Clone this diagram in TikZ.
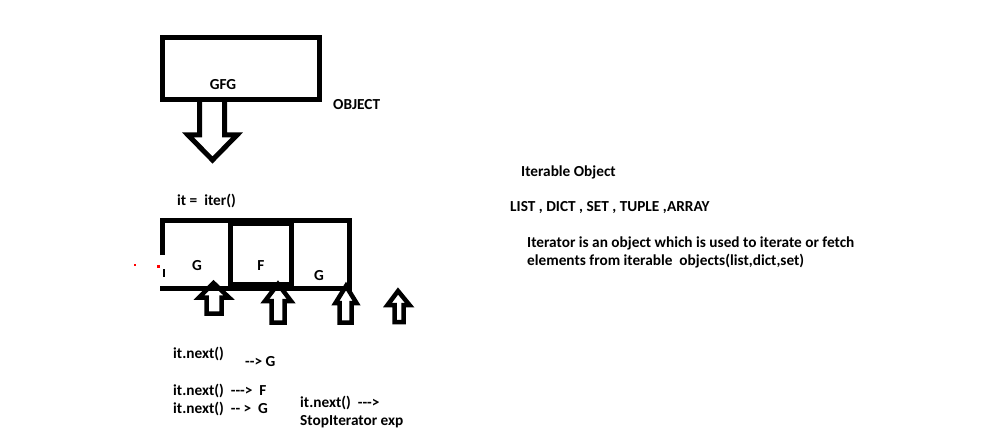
\documentclass[tikz,border=0pt]{standalone}
\usepackage{fontspec}
\setmainfont{Carlito}[Ligatures=TeXOff]
\begin{document}
\begin{tikzpicture}[x=1pt,y=-1pt,
  lbl/.style={inner sep=0pt,anchor=base west,font=\fontsize{15.3}{18}\selectfont\bfseries},
  lblc/.style={inner sep=0pt,anchor=base,font=\fontsize{15.3}{18}\selectfont\bfseries},
  heavy/.style={line width=5pt,line join=miter},
  blockarrow/.style={line width=4.5pt,line join=miter,miter limit=10}]
\useasboundingbox[fill=white] (0,0) rectangle (1004,433);
% top object box
\draw[heavy] (162.5,37.5) rectangle (319,100);
\node[lblc] (gfg) at (223,90) {GFG};
\node[lbl] (obj) at (333,110) {OBJECT};
% down arrow
\draw[heavy] (199.5,102) -- (199.5,135) -- (188,135) -- (212.5,160) -- (237,135) -- (224.5,135) -- (224.5,102);
\node[lbl] (iter) at (177,205) {it =\ \ iter()};
% array frame
\draw[heavy,line cap=butt] (162.5,255) -- (162.5,220.5) -- (349,220.5) -- (349,288.5) -- (160,288.5);
\draw[heavy] (230.5,223.5) rectangle (291.5,284.5);
\draw[line width=1.5pt] (164,269) -- (164,277);
\fill[red] (156.5,265) rectangle (159.5,268);
\fill[red] (134,264) rectangle (136,265.5);
\node[lblc] (g1) at (197,270) {G};
\node[lblc] (f1) at (261,270) {F};
\node[lblc] (g2) at (319,280) {G};
% up arrows
\draw[blockarrow] (213.5,283) -- (229,297.5) -- (221.5,297.5) -- (221.5,313.5) -- (206.5,313.5) -- (206.5,297.5) -- (199,297.5) -- cycle;
\draw[blockarrow] (278,284) -- (291,301) -- (284.5,301) -- (284.5,322.5) -- (271.5,322.5) -- (271.5,301) -- (265,301) -- cycle;
\draw[blockarrow] (346,286) -- (356.5,303) -- (351.5,303) -- (351.5,322.5) -- (339.5,322.5) -- (339.5,303) -- (335.5,303) -- cycle;
\draw[blockarrow] (398,291) -- (409.5,305) -- (403.5,305) -- (403.5,322) -- (394.5,322) -- (394.5,305) -- (387.5,305) -- cycle;
% next calls
\node[lbl] (n1) at (173,358) {it.next()};
\node[lbl] (r1) at (245,366) {--> G};
\node[lbl] (n2) at (173,395) {it.next()\ \ --->\ \ F};
\node[lbl] (n3) at (173,413) {it.next()\ \ -- >\ \ G};
\node[lbl] (n4) at (300,407) {it.next()\ \ --->};
\node[lbl] (n5) at (300,425) {StopIterator exp};
% right texts
\node[lbl] (t1) at (521,176) {Iterable Object};
\node[lbl] (t2) at (510,211) {LIST , DICT , SET , TUPLE ,ARRAY};
\node[lbl] (t3) at (527,247) {Iterator is an object which is used to iterate or fetch};
\node[lbl] (t4) at (527,265) {elements from iterable\ \ objects(list,dict,set)};
\end{tikzpicture}
\end{document}
